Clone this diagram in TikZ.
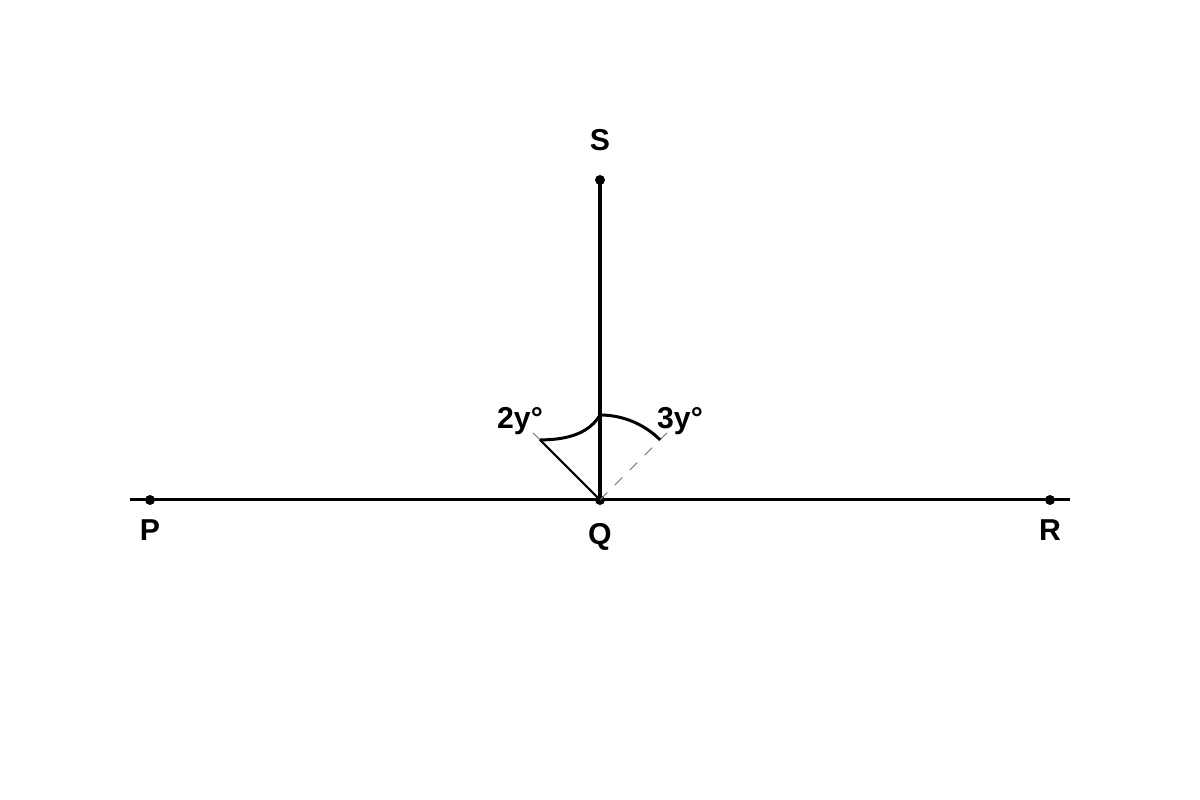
\documentclass[tikz,border=0pt]{standalone}
\usepackage{fontspec}
\setmainfont{Liberation Sans}
\usetikzlibrary{calc}

\begin{document}
\begin{tikzpicture}[
  dot/.style={circle,fill=black,inner sep=0pt,minimum size=0.1cm},
  lbl/.style={font=\fontsize{8.6}{10}\selectfont\bfseries,inner sep=1pt},
  ray/.style={line width=0.85pt},
  guide/.style={gray,dashed,line width=0.3pt}]
  \useasboundingbox (0,0) rectangle (12,8);
  % points
  \node[dot] (Q) at (6,3) {};
  \node[dot] (P) at (1.5,3) {};
  \node[dot] (R) at (10.5,3) {};
  \node[dot] (S) at (6,6.2) {};
  \coordinate (lend) at (1.3,3);
  \coordinate (rend) at (10.7,3);
  \coordinate (a2) at ($(Q)+(135:1.02)$);
  \coordinate (a3) at ($(Q)+(45:0.97)$);
  \coordinate (b2) at ($(Q)+(135:0.85)$);
  \coordinate (top) at ($(Q)+(90:0.85)$);
  % labels
  \node[lbl] (lP) at (1.5,2.7) {P};
  \node[lbl] (lQ) at (6,2.63) {Q};
  \node[lbl] (lR) at (10.5,2.7) {R};
  \node[lbl] (lS) at (6,6.6) {S};
  \node[lbl] (l2) at (5.2,3.79) {2y°};
  \node[lbl] (l3) at (6.8,3.79) {3y°};
  % lines
  \draw[ray] (lend) -- (rend);
  \draw[line width=0.95pt] (Q.center) -- (S.center);
  \draw[guide] (Q.center) -- (a2);
  \draw[guide] (Q.center) -- (a3);
  \draw[line width=0.6pt] (Q.center) -- (b2);
  \draw[ray] (b2) .. controls (5.7,3.6) and (5.9,3.68) .. (top);
  \draw[ray] (top) arc[start angle=90,end angle=45,radius=0.85];
\end{tikzpicture}
\end{document}
